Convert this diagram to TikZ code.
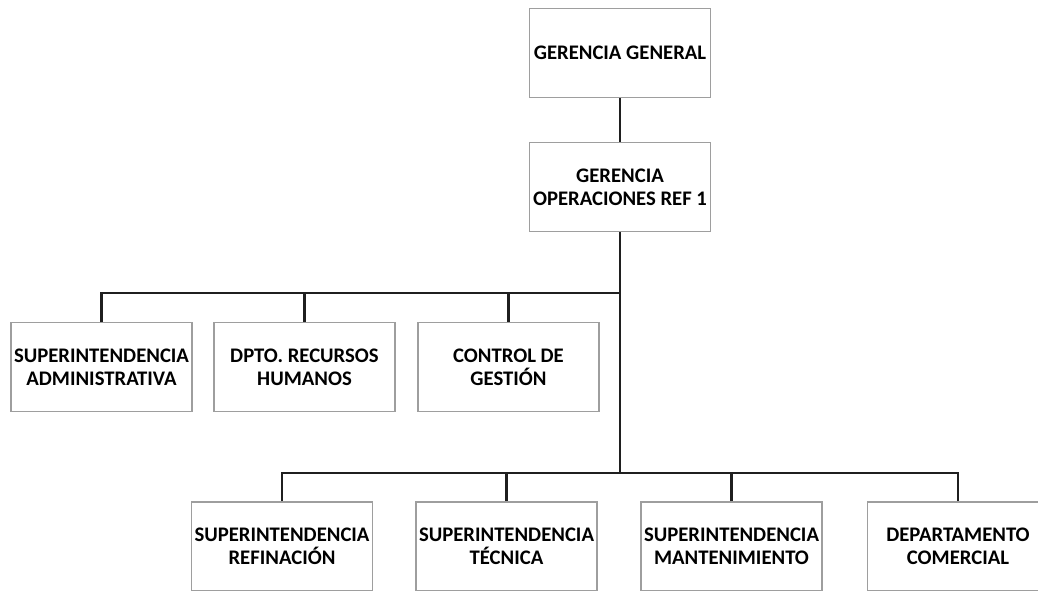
\documentclass[tikz,border=0pt]{standalone}
\usepackage{fontspec}
\setmainfont{Carlito}
\definecolor{boxgray}{gray}{0.62}
\definecolor{linedark}{gray}{0.12}

\begin{document}
\begin{tikzpicture}[x=1pt,y=-1pt,
    box/.style={draw=boxgray,line width=1.6pt,fill=white,minimum width=181pt,
      minimum height=89pt,align=center,inner sep=0pt,
      font=\fontsize{20.7}{23}\selectfont\bfseries},
    lin/.style={draw=linedark,line width=2.4pt}]
  \useasboundingbox (0,0) rectangle (1038,590);
  \clip (0,0) rectangle (1038,590);
  \fill[white] (0,0) rectangle (1038,590);
  % gerencias
  \node[box] (gg) at (620,53) {GERENCIA GENERAL};
  \node[box] (gop) at (620,187) {GERENCIA\\OPERACIONES REF 1};
  % staff
  \node[box] (sad) at (101.5,367) {SUPERINTENDENCIA\\ADMINISTRATIVA};
  \node[box] (rrhh) at (304.5,367) {DPTO. RECURSOS\\HUMANOS};
  \node[box] (cg) at (508.5,367) {CONTROL DE\\GESTIÓN};
  % linea
  \node[box] (sref) at (282,546.5) {SUPERINTENDENCIA\\REFINACIÓN};
  \node[box] (stec) at (506.5,546.5) {SUPERINTENDENCIA\\TÉCNICA};
  \node[box] (sman) at (731.5,546.5) {SUPERINTENDENCIA\\MANTENIMIENTO};
  \node[box] (dcom) at (958,546.5) {DEPARTAMENTO\\COMERCIAL};
  \coordinate (ja) at (620,293);
  \coordinate (jb) at (620,473);
  \draw[lin] (gg) -- (gop);
  \draw[lin] (gop) -- (jb);
  \draw[lin] (sad) |- (ja);
  \draw[lin] (rrhh) |- (ja);
  \draw[lin] (cg) |- (ja);
  \draw[lin] (sref) |- (jb);
  \draw[lin] (stec) |- (jb);
  \draw[lin] (sman) |- (jb);
  \draw[lin] (dcom) |- (jb);
\end{tikzpicture}
\end{document}
